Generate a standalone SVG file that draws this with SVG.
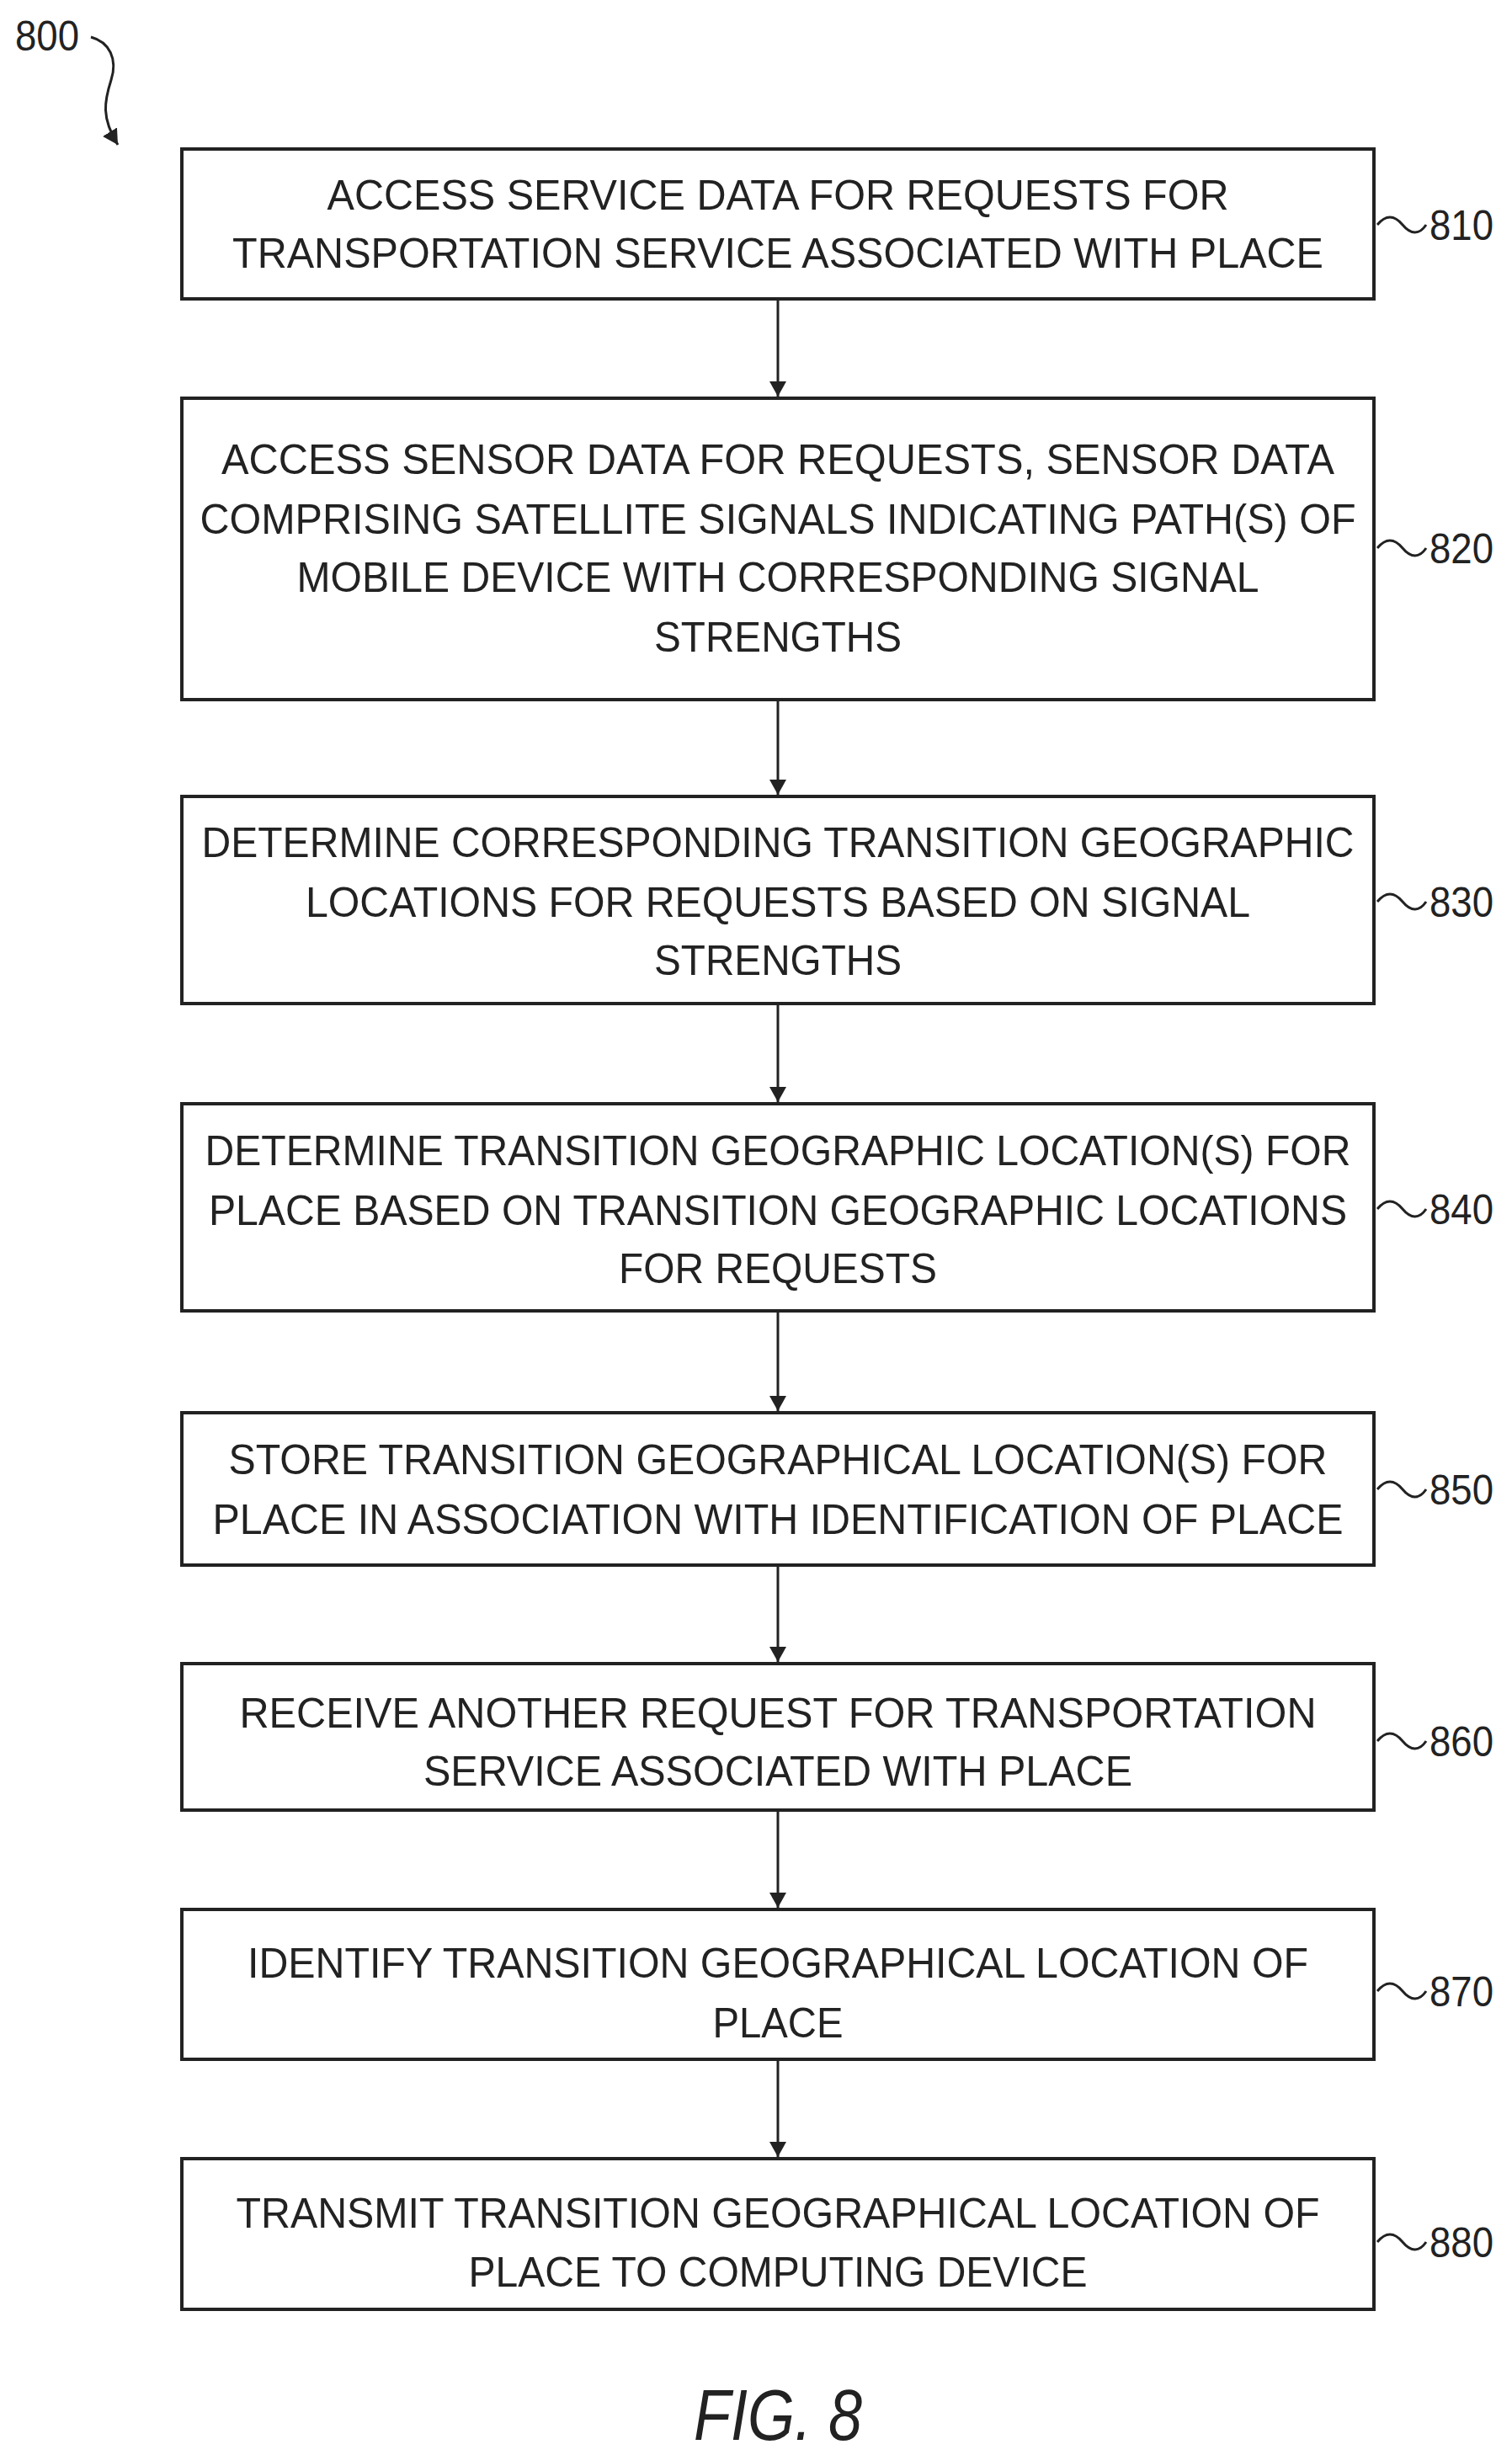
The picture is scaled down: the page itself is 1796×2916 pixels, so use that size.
<svg xmlns="http://www.w3.org/2000/svg" width="1796" height="2916" viewBox="0 0 1796 2916">
<defs><marker id="ah" markerWidth="18" markerHeight="20" refX="18" refY="10" orient="auto" markerUnits="userSpaceOnUse" viewBox="0 0 18 20"><path d="M0,0 L18,10 L0,20 Z" fill="#222"/></marker>
<style>
rect{fill:#fff;stroke:#222;stroke-width:4}
text{font-family:"Liberation Sans",Arial,sans-serif;font-size:50px;fill:#222;text-anchor:middle}
.l{text-anchor:start;font-size:50px}
path.c{fill:none;stroke:#222;stroke-width:3}
</style></defs>
<rect width="1796" height="2916" style="stroke:none"/>
<g id="n800"><text class="l" x="18" y="60" textLength="76" lengthAdjust="spacingAndGlyphs">800</text>
<path class="c" d="M108,44 C130,50 140,70 132,95 C124,120 120,140 140,172" marker-end="url(#ah)"/></g>
<g id="n810"><rect x="216" y="177" width="1416" height="178"/>
<text x="924" y="249" textLength="1071" lengthAdjust="spacingAndGlyphs">ACCESS SERVICE DATA FOR REQUESTS FOR</text>
<text x="924" y="318" textLength="1296" lengthAdjust="spacingAndGlyphs">TRANSPORTATION SERVICE ASSOCIATED WITH PLACE</text></g>
<g id="n820"><rect x="216" y="473" width="1416" height="358"/>
<text x="924" y="563" textLength="1322" lengthAdjust="spacingAndGlyphs">ACCESS SENSOR DATA FOR REQUESTS, SENSOR DATA</text>
<text x="924" y="634" textLength="1373" lengthAdjust="spacingAndGlyphs">COMPRISING SATELLITE SIGNALS INDICATING PATH(S) OF</text>
<text x="924" y="703" textLength="1143" lengthAdjust="spacingAndGlyphs">MOBILE DEVICE WITH CORRESPONDING SIGNAL</text>
<text x="924" y="774" textLength="294" lengthAdjust="spacingAndGlyphs">STRENGTHS</text></g>
<g id="n830"><rect x="216" y="946" width="1416" height="246"/>
<text x="924" y="1018" textLength="1369" lengthAdjust="spacingAndGlyphs">DETERMINE CORRESPONDING TRANSITION GEOGRAPHIC</text>
<text x="924" y="1089" textLength="1122" lengthAdjust="spacingAndGlyphs">LOCATIONS FOR REQUESTS BASED ON SIGNAL</text>
<text x="924" y="1158" textLength="294" lengthAdjust="spacingAndGlyphs">STRENGTHS</text></g>
<g id="n840"><rect x="216" y="1311" width="1416" height="246"/>
<text x="924" y="1384" textLength="1361" lengthAdjust="spacingAndGlyphs">DETERMINE TRANSITION GEOGRAPHIC LOCATION(S) FOR</text>
<text x="924" y="1455" textLength="1352" lengthAdjust="spacingAndGlyphs">PLACE BASED ON TRANSITION GEOGRAPHIC LOCATIONS</text>
<text x="924" y="1524" textLength="378" lengthAdjust="spacingAndGlyphs">FOR REQUESTS</text></g>
<g id="n850"><rect x="216" y="1678" width="1416" height="181"/>
<text x="924" y="1751" textLength="1305" lengthAdjust="spacingAndGlyphs">STORE TRANSITION GEOGRAPHICAL LOCATION(S) FOR</text>
<text x="924" y="1822" textLength="1343" lengthAdjust="spacingAndGlyphs">PLACE IN ASSOCIATION WITH IDENTIFICATION OF PLACE</text></g>
<g id="n860"><rect x="216" y="1976" width="1416" height="174"/>
<text x="924" y="2052" textLength="1279" lengthAdjust="spacingAndGlyphs">RECEIVE ANOTHER REQUEST FOR TRANSPORTATION</text>
<text x="924" y="2121" textLength="842" lengthAdjust="spacingAndGlyphs">SERVICE ASSOCIATED WITH PLACE</text></g>
<g id="n870"><rect x="216" y="2268" width="1416" height="178"/>
<text x="924" y="2349" textLength="1260" lengthAdjust="spacingAndGlyphs">IDENTIFY TRANSITION GEOGRAPHICAL LOCATION OF</text>
<text x="924" y="2420" textLength="155" lengthAdjust="spacingAndGlyphs">PLACE</text></g>
<g id="n880"><rect x="216" y="2564" width="1416" height="179"/>
<text x="924" y="2646" textLength="1287" lengthAdjust="spacingAndGlyphs">TRANSMIT TRANSITION GEOGRAPHICAL LOCATION OF</text>
<text x="924" y="2716" textLength="735" lengthAdjust="spacingAndGlyphs">PLACE TO COMPUTING DEVICE</text></g>
<g id="labels">
<path class="c" d="M1636,267 c10,-12 20,-12 30,0 s20,12 28,0"/><text class="l" x="1698" y="285" textLength="76" lengthAdjust="spacingAndGlyphs">810</text>
<path class="c" d="M1636,651 c10,-12 20,-12 30,0 s20,12 28,0"/><text class="l" x="1698" y="669" textLength="76" lengthAdjust="spacingAndGlyphs">820</text>
<path class="c" d="M1636,1071 c10,-12 20,-12 30,0 s20,12 28,0"/><text class="l" x="1698" y="1089" textLength="76" lengthAdjust="spacingAndGlyphs">830</text>
<path class="c" d="M1636,1436 c10,-12 20,-12 30,0 s20,12 28,0"/><text class="l" x="1698" y="1454" textLength="76" lengthAdjust="spacingAndGlyphs">840</text>
<path class="c" d="M1636,1769 c10,-12 20,-12 30,0 s20,12 28,0"/><text class="l" x="1698" y="1787" textLength="76" lengthAdjust="spacingAndGlyphs">850</text>
<path class="c" d="M1636,2068 c10,-12 20,-12 30,0 s20,12 28,0"/><text class="l" x="1698" y="2086" textLength="76" lengthAdjust="spacingAndGlyphs">860</text>
<path class="c" d="M1636,2365 c10,-12 20,-12 30,0 s20,12 28,0"/><text class="l" x="1698" y="2383" textLength="76" lengthAdjust="spacingAndGlyphs">870</text>
<path class="c" d="M1636,2663 c10,-12 20,-12 30,0 s20,12 28,0"/><text class="l" x="1698" y="2681" textLength="76" lengthAdjust="spacingAndGlyphs">880</text>
</g>
<g id="connectors">
<path class="c" d="M924,355 V471" marker-end="url(#ah)"/>
<path class="c" d="M924,831 V944" marker-end="url(#ah)"/>
<path class="c" d="M924,1192 V1309" marker-end="url(#ah)"/>
<path class="c" d="M924,1557 V1676" marker-end="url(#ah)"/>
<path class="c" d="M924,1859 V1974" marker-end="url(#ah)"/>
<path class="c" d="M924,2150 V2266" marker-end="url(#ah)"/>
<path class="c" d="M924,2446 V2562" marker-end="url(#ah)"/>
</g>
<text x="924" y="2898" style="font-size:86px;font-style:italic" textLength="200" lengthAdjust="spacingAndGlyphs">FIG. 8</text>
</svg>
